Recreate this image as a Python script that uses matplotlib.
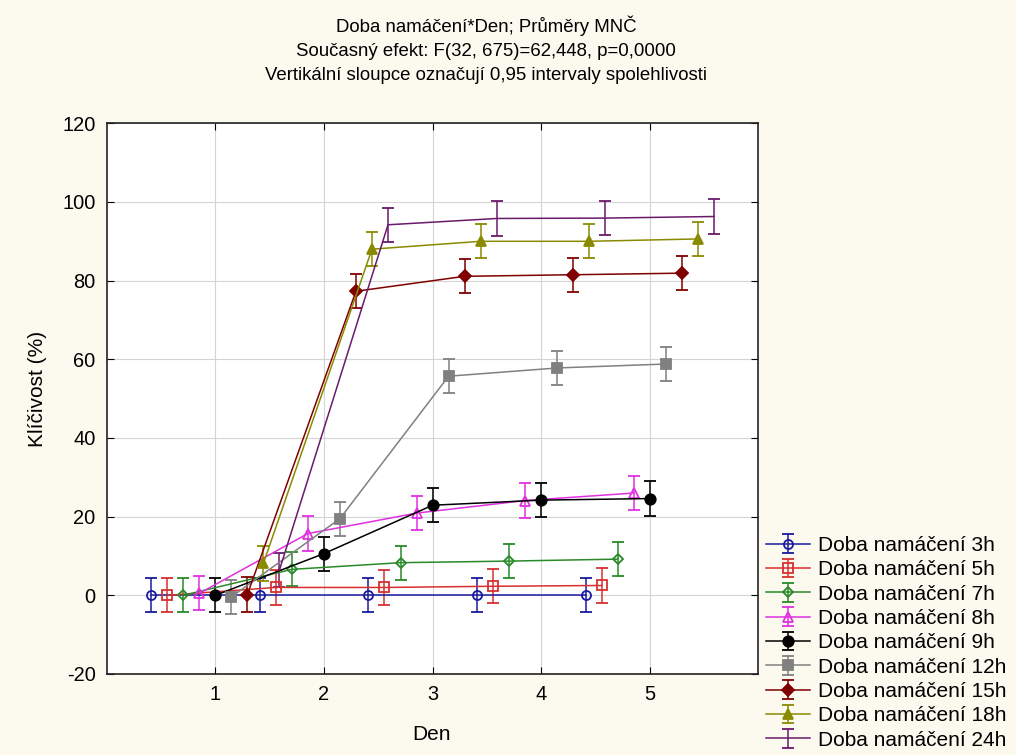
import numpy as np
import matplotlib
matplotlib.use("Agg")
import matplotlib.pyplot as plt
from matplotlib.legend_handler import HandlerErrorbar
from matplotlib.container import ErrorbarContainer

plt.rcParams["font.family"] = ["Liberation Sans", "DejaVu Sans"]
plt.rcParams["axes.unicode_minus"] = False

days = [1, 2, 3, 4, 5]
labels = ["Doba namáčení 3h", "Doba namáčení 5h", "Doba namáčení 7h",
          "Doba namáčení 8h", "Doba namáčení 9h", "Doba namáčení 12h",
          "Doba namáčení 15h", "Doba namáčení 18h", "Doba namáčení 24h"]

h3 = [0, 0, 0, 0, 0]
h5 = [0, 2.0, 2.0, 2.3, 2.5]
h7 = [0, 6.6, 8.3, 8.7, 9.2]
h8 = [0.5, 15.7, 20.9, 24.1, 26.0]
h9 = [0, 10.6, 22.9, 24.2, 24.6]
h12 = [-0.4, 19.5, 55.7, 57.8, 58.8]
h15 = [0.2, 77.3, 81.1, 81.5, 81.9]
h18 = [8.1, 88.0, 90.0, 90.0, 90.6]
h24 = [6.4, 94.2, 95.8, 95.9, 96.3]
ci = 4.35  # half-width of the 0.95 interval (pooled)

series = [h3, h5, h7, h8, h9, h12, h15, h18, h24]
colors = ["#1a1aa0", "#d83030", "#2a8a2a", "#e030e0", "#000000",
          "#808080", "#800000", "#8a8a00", "#6a1a6a"]
markers = ["o", "s", "D", "^", "o", "s", "D", "^", "None"]
filled = [False, False, False, False, True, True, True, True, False]
msizes = [6.5, 6.5, 5, 6.5, 7.5, 7.5, 6, 7, 6]

bg = "#fcf9ef"
fig = plt.figure(figsize=(10.16, 7.55), dpi=100, facecolor=bg)
ax = fig.add_axes([0.105, 0.1073, 0.6415, 0.7294])
ax.set_facecolor("white")

step = 0.1475
for i, vals in enumerate(series):
    off = (i - 4) * step
    x = np.array(days) + off
    c = colors[i]
    ax.errorbar(x, vals, yerr=ci, color=c, marker=markers[i],
                mfc=c if filled[i] else "none", mec=c, mew=1.3,
                ms=msizes[i], lw=1.1, elinewidth=1.1, capsize=4.3,
                capthick=1.1, label=labels[i], zorder=3)

ax.set_xlim(0, 6)
ax.set_ylim(-20, 120)
ax.set_xticks(days)
ax.set_yticks(np.arange(-20, 121, 20))
ax.grid(True, color="#d4d4d4", lw=0.8)
ax.set_axisbelow(True)
ax.tick_params(direction="in", top=True, right=True, length=5,
               labelsize=14.4, pad=8, colors="black")
ax.tick_params(axis="x", labeltop=False)
ax.tick_params(axis="y", labelright=False)
for sp in ax.spines.values():
    sp.set_linewidth(1.2)
    sp.set_color("#222222")

fig.text(37.5 / 1016, 1 - 389 / 755, "Klíčivost (%)", rotation=90,
         ha="center", va="center", fontsize=15)
fig.text(432 / 1016, 1 - 735 / 755, "Den", ha="center", va="center",
         fontsize=15)

title_lines = ["Doba namáčení*Den; Průměry MNČ",
               "Současný efekt: F(32, 675)=62,448, p=0,0000",
               "Vertikální sloupce označují 0,95 intervaly spolehlivosti"]
for line, base in zip(title_lines, [32, 56, 80]):
    fig.text(486 / 1016, 1 - base / 755, line, ha="center", va="baseline",
             fontsize=13.4)

fig.legend(loc="upper left", bbox_to_anchor=(766 / 1016, 1 - 536 / 755),
           frameon=False, fontsize=15, handlelength=2.1, handletextpad=0.4,
           labelspacing=0.255, borderpad=0, borderaxespad=0,
           handler_map={ErrorbarContainer: HandlerErrorbar(yerr_size=0.45)})

fig.savefig("out.png", dpi=100, facecolor=bg)
